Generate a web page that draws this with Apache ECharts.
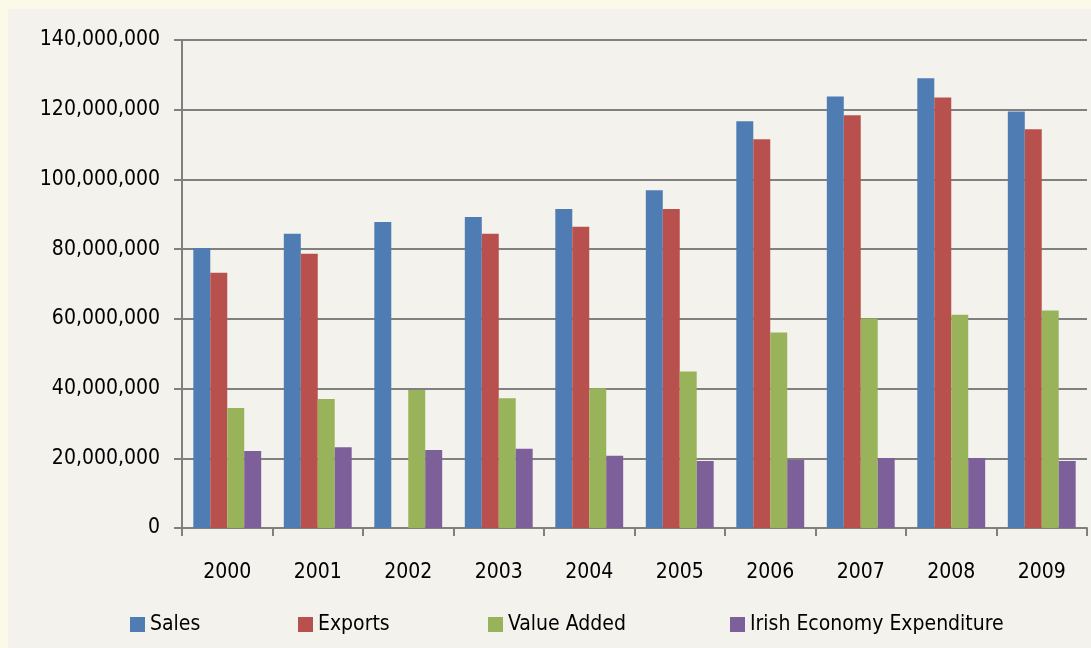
<!DOCTYPE html>
<html>
<head>
<meta charset="utf-8">
<script src="https://cdn.jsdelivr.net/npm/echarts@6/dist/echarts.min.js"></script>
<style>
  html, body { margin: 0; padding: 0; background: #fbfae8; }
  #chart { position: absolute; left: 8px; top: 9px; width: 1083px; height: 639px; background: #f4f2ec; }
</style>
</head>
<body>
<div id="chart"></div>
<script>
// categories
var years = ['2000', '2001', '2002', '2003', '2004', '2005', '2006', '2007', '2008', '2009'];
// series values
var sales = [80300000, 84400000, 87800000, 89200000, 91500000, 96900000, 116700000, 123800000, 129000000, 119500000];
var exportsVals = [73200000, 78700000, null, 84400000, 86400000, 91500000, 111500000, 118400000, 123500000, 114400000];
var valueAdded = [34400000, 37000000, 39600000, 37200000, 40100000, 44900000, 56100000, 60100000, 61200000, 62400000];
var irishExp = [22100000, 23200000, 22400000, 22700000, 20700000, 19200000, 19500000, 20100000, 20100000, 19200000];
var seriesNames = ['Sales', 'Exports', 'Value Added', 'Irish Economy Expenditure'];
var colors = ['#4f7cb2', '#b8504d', '#98b35a', '#7d6099'];

var font = '"DejaVu Sans Condensed", "DejaVu Sans", sans-serif';
var chart = echarts.init(document.getElementById('chart'));

// one legend per item so they sit where the original puts them
var legendLeft = [117, 285, 475, 717];
var legends = seriesNames.map(function (name, i) {
  return {
    data: [name],
    left: legendLeft[i],
    top: 600,
    itemWidth: 15,
    itemHeight: 15,
    itemGap: 0,
    icon: 'rect',
    textStyle: { fontFamily: font, fontSize: 21, color: '#000' }
  };
});

var seriesData = [sales, exportsVals, valueAdded, irishExp];

chart.setOption({
  animation: false,
  color: colors,
  legend: legends,
  grid: { left: 174, top: 31, width: 905, height: 488, containLabel: false },
  xAxis: {
    type: 'category',
    data: years,
    axisLine: { lineStyle: { color: '#808080', width: 2 } },
    axisTick: { show: true, length: 8, lineStyle: { color: '#808080', width: 2 } },
    axisLabel: { margin: 34, fontFamily: font, fontSize: 21, color: '#000' }
  },
  yAxis: {
    type: 'value',
    min: 0,
    max: 140000000,
    interval: 20000000,
    axisLine: { show: true, lineStyle: { color: '#808080', width: 2 } },
    axisTick: { show: true, length: 8, lineStyle: { color: '#808080', width: 2 } },
    splitLine: { lineStyle: { color: '#808080', width: 2 } },
    axisLabel: {
      margin: 22,
      fontFamily: font,
      fontSize: 21,
      color: '#000',
      formatter: function (v) { return v.toLocaleString('en-US'); }
    }
  },
  series: seriesNames.map(function (name, i) {
    return {
      name: name,
      type: 'bar',
      data: seriesData[i],
      barGap: '0%',
      barCategoryGap: '25%'
    };
  })
});
</script>
</body>
</html>
